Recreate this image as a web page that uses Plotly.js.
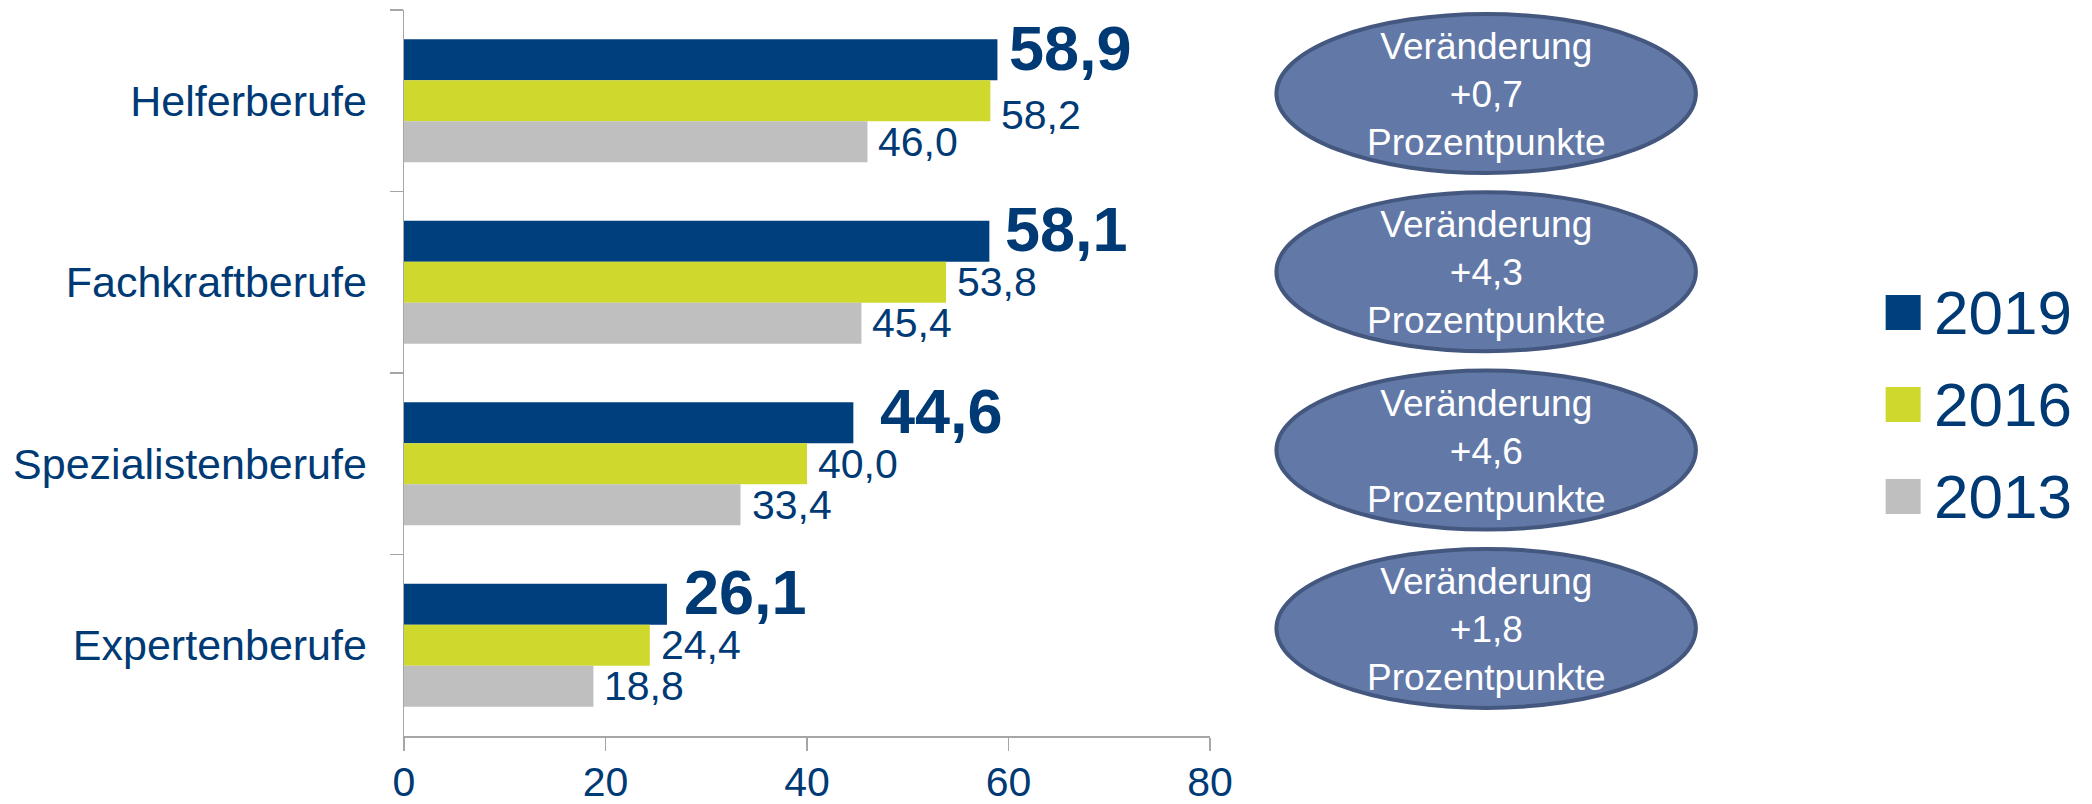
<!DOCTYPE html>
<html>
<head>
<meta charset="utf-8">
<script src="https://cdn.plot.ly/plotly-3.0.1.min.js"></script>
<style>html,body{margin:0;padding:0;background:#fff;}#chart{width:2092px;height:804px;}</style>
</head>
<body>
<div id="chart"></div>
<script>
// ---- data ----
const categories = ['Helferberufe', 'Fachkraftberufe', 'Spezialistenberufe', 'Expertenberufe'];
const seriesNames = ['2019', '2016', '2013'];
const values2019 = [58.9, 58.1, 44.6, 26.1];
const values2016 = [58.2, 53.8, 40.0, 24.4];
const values2013 = [46.0, 45.4, 33.4, 18.8];
const changeLabels = ['+0,7', '+4,3', '+4,6', '+1,8'];
const xTicks = [0, 20, 40, 60, 80];

// ---- style ----
const FONT = 'Liberation Sans, Arial, sans-serif';
const TEXT = '#003a75';
const colors = ['#003f7d', '#cfd82d', '#bfbfbf'];
const W = 2092, H = 804;
const L = 403.5, R = 1210.5, T = 10, B = 736;
const PW = R - L, PH = B - T;
const px = x => (x - L) / PW;
const py = y => 1 - (y - T) / PH;

const allValues = [values2019, values2016, values2013];
const bargap = 0.322;
const barW = (1 - bargap) / 3;

// manual label placement tweaks (pixels), keyed "series-category"
const labelNudge = { '0-2': [15, 0], '1-0': [0, -14], '0-3': [5, 0], '0-1': [4, 0] };

const traces = allValues.map((vals, s) => ({
  type: 'bar',
  orientation: 'h',
  name: seriesNames[s],
  y: categories,
  x: vals,
  marker: { color: colors[s], line: { width: 0 } },
  hoverinfo: 'x+y+name',
  showlegend: false
}));

const fmt = v => v.toFixed(1).replace('.', ',');
const annotations = [];
allValues.forEach((vals, s) => {
  vals.forEach((v, i) => {
    const bold = s === 0;
    const n = labelNudge[s + '-' + i] || [0, 0];
    annotations.push({
      x: v, y: i + (s - 1) * barW, xref: 'x', yref: 'y',
      text: bold ? '<b>' + fmt(v) + '</b>' : fmt(v),
      showarrow: false, xanchor: 'left', yanchor: 'middle',
      xshift: (bold ? 10 : 9) + n[0], yshift: (bold ? 12 : 0) + n[1],
      font: { family: FONT, size: bold ? 63 : 41, color: TEXT }
    });
  });
});

// change ellipses
const shapes = [];
const ellX0 = 1277, ellX1 = 1697, ellRy = 79.5, ellY0 = 93.5, ellStep = 178.3;
changeLabels.forEach((c, i) => {
  const cy = ellY0 + i * ellStep;
  shapes.push({
    type: 'circle', xref: 'paper', yref: 'paper',
    x0: px(ellX0), x1: px(ellX1), y0: py(cy + ellRy), y1: py(cy - ellRy),
    fillcolor: '#6279a8', line: { color: '#44577e', width: 4 }, layer: 'above'
  });
  annotations.push({
    xref: 'paper', yref: 'paper', x: px((ellX0 + ellX1) / 2), y: py(cy + 1),
    text: 'Veränderung<br>' + c + '<br>Prozentpunkte',
    showarrow: false, xanchor: 'center', yanchor: 'middle', align: 'center',
    font: { family: FONT, size: 37, color: '#ffffff' }
  });
});

// legend (drawn manually so that the swatches are large)
const legY0 = 312.5, legStep = 92, sq = 35;
seriesNames.forEach((n, s) => {
  const cy = legY0 + s * legStep;
  shapes.push({
    type: 'rect', xref: 'paper', yref: 'paper',
    x0: px(1887), x1: px(1887 + sq), y0: py(cy + sq / 2), y1: py(cy - sq / 2),
    fillcolor: colors[s], line: { width: 0 }
  });
  annotations.push({
    xref: 'paper', yref: 'paper', x: px(1933), y: py(cy), text: n,
    showarrow: false, xanchor: 'left', yanchor: 'middle',
    font: { family: FONT, size: 62, color: TEXT }
  });
});

const layout = {
  width: W, height: H,
  margin: { l: L, r: W - R, t: T, b: H - B, pad: 0 },
  paper_bgcolor: '#ffffff', plot_bgcolor: '#ffffff',
  barmode: 'group', bargap: bargap, bargroupgap: 0,
  showlegend: false,
  font: { family: FONT, color: TEXT },
  xaxis: {
    range: [0, 80], tickvals: xTicks, ticktext: xTicks.map(String),
    showgrid: false, zeroline: false, showline: true, linecolor: '#a6a6a6', linewidth: 1.5,
    ticks: 'outside', ticklen: 13, tickcolor: '#a6a6a6', tickwidth: 1.5,
    ticklabelstandoff: -4,
    tickfont: { family: FONT, size: 41, color: TEXT }, fixedrange: true
  },
  yaxis: {
    type: 'category', range: [3.5, -0.5],
    showgrid: false, zeroline: false, showline: true, linecolor: '#a6a6a6', linewidth: 1.5,
    ticks: 'outside', tickson: 'boundaries', ticklen: 13, tickcolor: '#a6a6a6', tickwidth: 1.5,
    ticklabelstandoff: 27,
    tickfont: { family: FONT, size: 43, color: TEXT }, fixedrange: true
  },
  shapes: shapes,
  annotations: annotations
};

Plotly.newPlot('chart', traces, layout, { displayModeBar: false, staticPlot: true });
</script>
</body>
</html>
